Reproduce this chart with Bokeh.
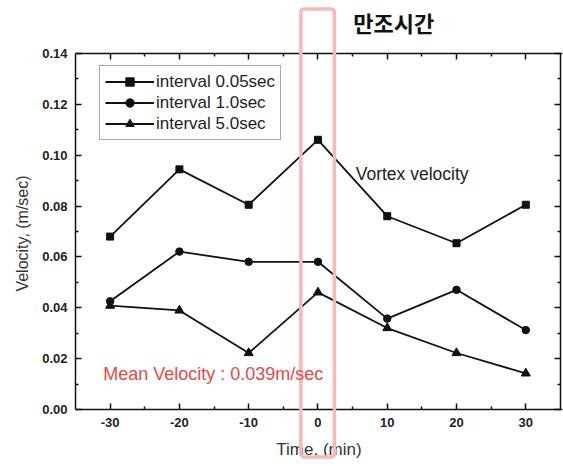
from bokeh.plotting import figure
from bokeh.models import (Range1d, LinearAxis, FixedTicker, PrintfTickFormatter,
                          Legend, LegendItem, Label, BoxAnnotation, CustomLabelingPolicy)
from bokeh.embed import file_html
from bokeh.resources import INLINE

time_min = [-30, -20, -10, 0, 10, 20, 30]
v_005 = [0.068, 0.0944, 0.0805, 0.106, 0.076, 0.0654, 0.0805]
v_10 = [0.0426, 0.0621, 0.0581, 0.0581, 0.0358, 0.0471, 0.0313]
v_50 = [0.0409, 0.039, 0.0223, 0.0461, 0.0321, 0.0223, 0.0143]
series_names = ["interval 0.05sec", "interval 1.0sec", "interval 5.0sec"]
x_ticks = [-30, -20, -10, 0, 10, 20, 30]
y_ticks = [0.0, 0.02, 0.04, 0.06, 0.08, 0.10, 0.12, 0.14]

FONT = "Liberation Sans"
INK = "#111111"

# frame spans the full height so the highlight box can run past the axes
p = figure(output_backend="svg", toolbar_location=None,
           frame_width=487, frame_height=466,
           min_border_left=75, min_border_right=1, min_border_top=0, min_border_bottom=0,
           x_range=Range1d(-35, 35.3), y_range=Range1d(-0.02226, 0.16069))
p.xgrid.visible = False
p.ygrid.visible = False
p.outline_line_color = None
p.background_fill_color = "white"

hide_labels = CustomLabelingPolicy(code="""
const ids = Array.from(indices)
for (const i of ids) indices.unset(i)
return indices
""")

def style_axis(ax, ticks, minors, fmt, show_labels=True):
    ax.ticker = FixedTicker(ticks=ticks, minor_ticks=minors)
    ax.formatter = PrintfTickFormatter(format=fmt)
    ax.axis_line_color = INK
    ax.axis_line_width = 1.5
    ax.major_tick_line_color = INK
    ax.minor_tick_line_color = INK
    ax.major_tick_line_width = 1.5
    ax.minor_tick_line_width = 1.5
    ax.major_tick_in = 6
    ax.major_tick_out = 0
    ax.minor_tick_in = 3
    ax.minor_tick_out = 0
    ax.major_label_text_font = FONT
    ax.major_label_text_font_style = "bold"
    ax.major_label_text_font_size = "13px"
    ax.major_label_text_color = "#222222"
    ax.major_label_standoff = 8
    ax.axis_label_text_font = FONT
    ax.axis_label_text_font_style = "normal"
    ax.axis_label_text_font_size = "17px"
    ax.axis_label_text_color = "#333333"
    if not show_labels:
        ax.major_label_policy = hide_labels

x_minor = [v + 5 for v in x_ticks[:-1]]
y_minor = [round(v + 0.01, 3) for v in y_ticks[:-1]]

left_ax = p.yaxis[0]
style_axis(left_ax, y_ticks, y_minor, "%.2f")
left_ax.bounds = (0, 0.14)
left_ax.axis_label = "Velocity, (m/sec)"
left_ax.axis_label_standoff = 8
left_ax.axis_label_text_font_size = "16px"

bottom_ax = p.xaxis[0]
style_axis(bottom_ax, x_ticks, x_minor, "%d")
bottom_ax.fixed_location = 0
bottom_ax.axis_label = "Time, (min)"
bottom_ax.axis_label_standoff = 10

top_ax = LinearAxis(fixed_location=0.14)
style_axis(top_ax, x_ticks, x_minor, "%d", show_labels=False)
p.add_layout(top_ax, "above")

right_ax = LinearAxis(fixed_location=35, bounds=(0, 0.14))
style_axis(right_ax, y_ticks, y_minor, "%.2f", show_labels=False)
p.add_layout(right_ax, "right")

l1 = p.line(time_min, v_005, line_color=INK, line_width=1.8)
l2 = p.line(time_min, v_10, line_color=INK, line_width=1.8)
l3 = p.line(time_min, v_50, line_color=INK, line_width=1.8)

# smaller key markers (hidden beneath the plotted markers, used for the legend)
k1 = p.scatter(time_min, v_005, marker="square", size=5.5, color=INK)
k2 = p.scatter(time_min, v_10, marker="circle", size=5.5, color=INK)
k3 = p.scatter(time_min, v_50, marker="triangle", size=7, color=INK)

p.scatter(time_min, v_005, marker="square", size=7, color=INK)
p.scatter(time_min, v_10, marker="circle", size=7.5, color=INK)
p.scatter(time_min, v_50, marker="triangle", size=9, color=INK)

items = [LegendItem(label=series_names[0], renderers=[l1, k1]),
         LegendItem(label=series_names[1], renderers=[l2, k2]),
         LegendItem(label=series_names[2], renderers=[l3, k3])]

legend = Legend(items=items, location=(24, 326), glyph_width=49, glyph_height=21,
                label_height=21, spacing=0, padding=5, margin=0, label_standoff=2,
                label_text_font=FONT, label_text_font_size="17px", label_text_color="#222222",
                border_line_color="#555555", border_line_width=1.3,
                background_fill_alpha=1)
p.add_layout(legend, "center")

box = BoxAnnotation(left=-2.47, right=2.38, bottom=-0.0185, top=0.1574,
                    fill_alpha=0, line_color="#f8b8b8", line_width=3.5, line_alpha=1,
                    border_radius=3)
p.add_layout(box)

p.add_layout(Label(x=5.1, y=0.1521, text="만조시간", text_font="Noto Sans CJK KR",
                   text_font_style="bold", text_font_size="22px", text_color="#111111",
                   text_baseline="middle"))
p.add_layout(Label(x=5.45, y=0.0924, text="Vortex velocity", text_font=FONT,
                   text_font_size="17.5px", text_color="#222222", text_baseline="middle"))
p.add_layout(Label(x=-31.0, y=0.0141, text="Mean Velocity : 0.039m/sec", text_font=FONT,
                   text_font_size="18px", text_color="#e84848", text_baseline="middle"))

open("out.html", "w").write(file_html(p, INLINE))
